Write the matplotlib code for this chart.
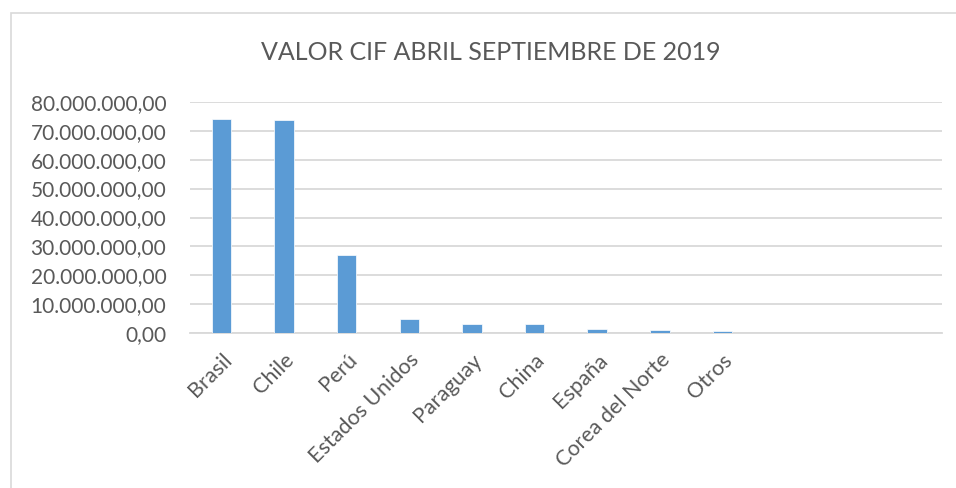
import matplotlib.pyplot as plt
from matplotlib.patches import Rectangle

paises = ['Brasil', 'Chile', 'Perú', 'Estados Unidos', 'Paraguay', 'China',
          'España', 'Corea del Norte', 'Otros']
valor_cif = [74000000, 73600000, 27200000, 4900000, 3100000, 3100000,
             1500000, 1250000, 800000]
y_ticks = [0, 10000000, 20000000, 30000000, 40000000, 50000000,
           60000000, 70000000, 80000000]
n_slots = 12  # the chart keeps room for 12 categories, last three empty

plt.rcParams['font.family'] = ['Lato', 'DejaVu Sans']
texto = '#595959'


def fmt_es(v):
    s = f'{v:,.2f}'
    return s.replace(',', 'X').replace('.', ',').replace('X', '.')


fig = plt.figure(figsize=(9.56, 4.88), dpi=100)
fig.patches.append(Rectangle((11 / 956, -0.1), 1.2, 1 - 13 / 488 + 0.1,
                             transform=fig.transFigure, fill=False,
                             edgecolor='#d9d9d9', linewidth=1.2))

ax = fig.add_axes([190 / 956, 1 - 333.3 / 488, (941.7 - 190) / 956, (333.3 - 101.7) / 488])
x = list(range(len(paises)))
ax.bar(x, valor_cif, width=0.31, color='#5b9bd5', edgecolor='white', linewidth=0.5, zorder=3)

ax.set_xlim(-0.5, n_slots - 0.5)
ax.set_ylim(0, 80000000)
ax.set_yticks(y_ticks)
ax.set_yticklabels([fmt_es(v) for v in y_ticks], fontsize=15, color=texto)
ax.set_xticks(x)
ax.set_xticklabels(paises, rotation=45, ha='right', rotation_mode='anchor',
                   fontsize=15.5, color=texto)
ax.tick_params(axis='both', length=0)
ax.tick_params(axis='y', pad=17)
ax.tick_params(axis='x', pad=12)

ax.grid(axis='y', color='#d9d9d9', linewidth=1.3, zorder=0)
for s in ['top', 'right', 'left']:
    ax.spines[s].set_visible(False)
ax.spines['bottom'].set_color('#d9d9d9')
ax.spines['bottom'].set_linewidth(1.3)

fig.text(491 / 956, 1 - 52 / 488, 'VALOR CIF ABRIL SEPTIEMBRE DE 2019',
         ha='center', va='center', fontsize=18, color=texto)

fig.savefig('out.png', dpi=100)
